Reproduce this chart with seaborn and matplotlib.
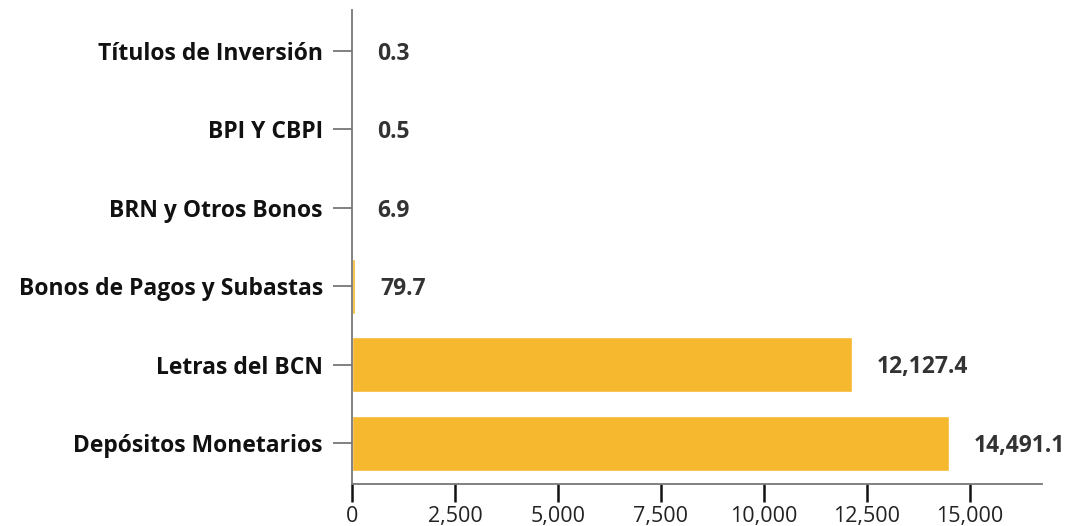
import matplotlib
matplotlib.use("Agg")
import matplotlib.pyplot as plt
import seaborn as sns
import pandas as pd
from matplotlib.ticker import FuncFormatter

categorias = ["Títulos de Inversión", "BPI Y CBPI", "BRN y Otros Bonos",
              "Bonos de Pagos y Subastas", "Letras del BCN", "Depósitos Monetarios"]
valores = [0.3, 0.5, 6.9, 79.7, 12127.4, 14491.1]
xticks = [0, 2500, 5000, 7500, 10000, 12500, 15000]

df = pd.DataFrame({"cat": categorias, "val": valores})

sns.set_style("white")
plt.rcParams['font.family'] = ['Open Sans', 'DejaVu Sans']

fig = plt.figure(figsize=(10.65, 5.26), dpi=100)
ax = fig.add_axes([352/1065, 42/526, (1042-352)/1065, (484-10)/526])

sns.barplot(data=df, x="val", y="cat", orient="h", color="#F5B82E",
            width=0.7, saturation=1, ax=ax)

for i, v in enumerate(valores):
    ax.annotate(f"{v:,.1f}", xy=(v, i), xytext=(18, -2), textcoords="offset points",
                ha="left", va="center", fontsize=16.5, fontweight="bold", color="#333333")

ax.set_xlim(0, 16750)
ax.set_ylim(5.52, -0.52)
ax.set_xticks(xticks)
ax.xaxis.set_major_formatter(FuncFormatter(lambda x, p: f"{x:,.0f}"))
ax.set_xlabel("")
ax.set_ylabel("")

for s in ["top", "right"]:
    ax.spines[s].set_visible(False)
for s in ["left", "bottom"]:
    ax.spines[s].set_color("#777777")
    ax.spines[s].set_linewidth(1.3)

ax.tick_params(axis="y", length=14, width=1.3, color="#777777", pad=7,
               labelsize=16.5, labelcolor="#111111", left=True)
ax.tick_params(axis="x", length=13, width=1.8, color="#111111", pad=3,
               labelsize=15.5, labelcolor="#222222", bottom=True)
for t in ax.get_yticklabels():
    t.set_fontweight("bold")

plt.savefig("out.png", dpi=100)
